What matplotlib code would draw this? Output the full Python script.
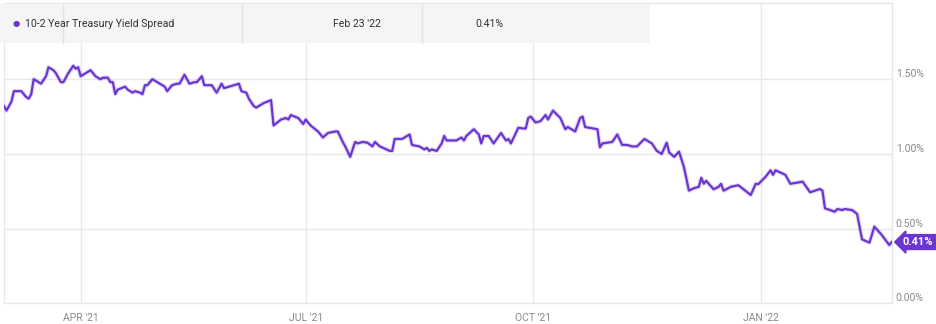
import matplotlib
matplotlib.use("Agg")
import matplotlib.pyplot as plt
import matplotlib.dates as mdates
import pandas as pd
from matplotlib.patches import Rectangle
from matplotlib.lines import Line2D
from matplotlib import font_manager

# 10-2 year treasury spread, values in percent
dates = [
    "2021-03-01", "2021-03-02", "2021-03-04", "2021-03-05", "2021-03-06", "2021-03-08",
    "2021-03-10", "2021-03-11", "2021-03-12", "2021-03-13", "2021-03-14", "2021-03-16",
    "2021-03-18", "2021-03-19", "2021-03-21", "2021-03-22", "2021-03-24", "2021-03-25",
    "2021-03-27", "2021-03-29", "2021-03-30", "2021-03-31",
    "2021-04-01", "2021-04-05", "2021-04-06", "2021-04-07", "2021-04-08", "2021-04-09",
    "2021-04-10", "2021-04-12", "2021-04-13", "2021-04-14", "2021-04-15", "2021-04-16",
    "2021-04-19", "2021-04-20", "2021-04-22", "2021-04-23", "2021-04-25", "2021-04-26",
    "2021-04-27", "2021-04-28", "2021-04-30",
    "2021-05-01", "2021-05-03", "2021-05-05", "2021-05-06", "2021-05-08", "2021-05-10",
    "2021-05-11", "2021-05-13", "2021-05-15", "2021-05-17", "2021-05-18", "2021-05-20",
    "2021-05-21", "2021-05-24", "2021-05-26", "2021-05-28", "2021-05-29", "2021-05-31",
    "2021-06-02", "2021-06-04", "2021-06-05", "2021-06-07", "2021-06-08", "2021-06-10",
    "2021-06-11", "2021-06-14", "2021-06-17", "2021-06-18", "2021-06-21", "2021-06-23",
    "2021-06-24", "2021-06-25", "2021-06-28", "2021-06-30",
    "2021-07-01", "2021-07-03", "2021-07-06", "2021-07-08", "2021-07-10", "2021-07-13",
    "2021-07-14", "2021-07-16", "2021-07-17", "2021-07-19", "2021-07-21", "2021-07-22",
    "2021-07-24", "2021-07-26", "2021-07-28", "2021-07-29", "2021-07-31",
    "2021-08-04", "2021-08-05", "2021-08-06", "2021-08-09", "2021-08-11", "2021-08-12",
    "2021-08-13", "2021-08-16", "2021-08-18", "2021-08-19", "2021-08-20", "2021-08-21",
    "2021-08-23", "2021-08-25", "2021-08-26", "2021-08-27", "2021-08-31",
    "2021-09-02", "2021-09-03", "2021-09-04", "2021-09-07", "2021-09-09", "2021-09-10",
    "2021-09-11", "2021-09-13", "2021-09-15", "2021-09-18", "2021-09-20", "2021-09-21",
    "2021-09-22", "2021-09-25", "2021-09-27", "2021-09-28", "2021-09-29", "2021-09-30",
    "2021-10-02", "2021-10-04", "2021-10-06", "2021-10-07", "2021-10-09", "2021-10-12",
    "2021-10-14", "2021-10-15", "2021-10-18", "2021-10-20", "2021-10-21", "2021-10-22",
    "2021-10-27", "2021-10-28", "2021-10-29",
    "2021-11-02", "2021-11-04", "2021-11-06", "2021-11-08", "2021-11-10", "2021-11-12",
    "2021-11-15", "2021-11-17", "2021-11-18", "2021-11-20", "2021-11-22", "2021-11-24",
    "2021-11-25", "2021-11-27", "2021-11-29",
    "2021-12-01", "2021-12-03", "2021-12-05", "2021-12-07", "2021-12-08", "2021-12-09",
    "2021-12-10", "2021-12-11", "2021-12-13", "2021-12-15", "2021-12-16", "2021-12-17",
    "2021-12-20", "2021-12-23", "2021-12-28", "2021-12-30", "2021-12-31",
    "2022-01-03", "2022-01-05", "2022-01-06", "2022-01-07", "2022-01-11", "2022-01-13",
    "2022-01-18", "2022-01-21", "2022-01-25", "2022-01-26", "2022-01-27", "2022-01-31",
    "2022-02-01", "2022-02-03", "2022-02-04", "2022-02-07", "2022-02-09", "2022-02-11",
    "2022-02-14", "2022-02-16", "2022-02-19", "2022-02-22", "2022-02-23",
]
spread = [
    1.32, 1.29, 1.35, 1.42, 1.42, 1.42,
    1.38, 1.37, 1.40, 1.50, 1.49, 1.47,
    1.52, 1.58, 1.56, 1.54, 1.48, 1.48,
    1.54, 1.59, 1.57, 1.58,
    1.52, 1.56, 1.54, 1.52, 1.51, 1.50,
    1.51, 1.51, 1.48, 1.48, 1.40, 1.43,
    1.45, 1.43, 1.41, 1.42, 1.41, 1.40,
    1.46, 1.46, 1.50,
    1.49, 1.47, 1.45, 1.42, 1.46, 1.47,
    1.47, 1.53, 1.47, 1.48, 1.48, 1.52,
    1.46, 1.46, 1.41, 1.47, 1.44, 1.45,
    1.46, 1.47, 1.42, 1.41, 1.37, 1.32,
    1.31, 1.34, 1.36, 1.19, 1.23, 1.24,
    1.23, 1.26, 1.24, 1.20,
    1.23, 1.19, 1.15, 1.11, 1.14, 1.15,
    1.15, 1.08, 1.05, 0.98, 1.08, 1.07,
    1.08, 1.075, 1.05, 1.08, 1.05,
    1.02, 1.02, 1.10, 1.10, 1.12, 1.13,
    1.06, 1.05, 1.03, 1.04, 1.02, 1.03,
    1.02, 1.07, 1.12, 1.09, 1.09,
    1.11, 1.09, 1.12, 1.165, 1.13, 1.07,
    1.12, 1.12, 1.07, 1.14, 1.09, 1.10,
    1.07, 1.175, 1.17, 1.17, 1.24, 1.25,
    1.21, 1.22, 1.26, 1.23, 1.29, 1.24,
    1.165, 1.18, 1.15, 1.24, 1.25, 1.18,
    1.165, 1.044, 1.07,
    1.08, 1.13, 1.06, 1.06, 1.05, 1.05,
    1.10, 1.08, 1.07, 1.02, 1.00, 1.075,
    1.01, 0.98, 1.015,
    0.91, 0.754, 0.77, 0.78, 0.84, 0.80,
    0.82, 0.80, 0.763, 0.78, 0.80, 0.754,
    0.78, 0.79, 0.725, 0.80, 0.797,
    0.847, 0.89, 0.86, 0.89, 0.86, 0.80,
    0.814, 0.743, 0.765, 0.754, 0.636, 0.613,
    0.631, 0.624, 0.631, 0.624, 0.598, 0.428,
    0.406, 0.513, 0.457, 0.39, 0.41,
]

y_ticks = [0.0, 0.5, 1.0, 1.5]
x_tick_dates = ["2021-04-01", "2021-07-01", "2021-10-01", "2022-01-01"]
x_tick_labels = ["APR '21", "JUL '21", "OCT '21", "JAN '22"]

series_name = "10-2 Year Treasury Yield Spread"
last_date_label = "Feb 23 '22"

purple = "#6a35d0"
grid_col = "#e8e8e8"
label_col = "#8a8a8a"

plt.rcParams["font.family"] = ["Roboto", "DejaVu Sans"]

# the header row uses a narrow face if one is around
installed = {f.name for f in font_manager.fontManager.ttflist}
head_font = "Liberation Sans Narrow" if "Liberation Sans Narrow" in installed else "Roboto"
head_size = 9.5 if head_font == "Liberation Sans Narrow" else 7.6

x = pd.to_datetime(dates)

fig = plt.figure(figsize=(9.36, 3.24), dpi=100)
fig.patch.set_facecolor("white")
ax = fig.add_axes([4 / 936, 1 - 303.3 / 324, 887.7 / 936, 300.3 / 324])

ax.plot(x, spread, color=purple, lw=3.2, alpha=0.18, solid_joinstyle="round", zorder=3)
ax.plot(x, spread, color=purple, lw=1.6, solid_joinstyle="round", zorder=4)

ax.set_xlim(pd.Timestamp("2021-03-01"), pd.Timestamp("2022-02-23"))
ax.set_ylim(0, 2.01)

ax.set_yticks(y_ticks)
ax.set_yticklabels([f"{v:.2f}%" for v in y_ticks])
ax.set_xticks(pd.to_datetime(x_tick_dates))
ax.set_xticklabels(x_tick_labels)

ax.yaxis.tick_right()
ax.tick_params(axis="y", length=0, pad=3, labelsize=7.5, labelcolor=label_col)
ax.tick_params(axis="x", length=0, pad=7, labelsize=7.5, labelcolor=label_col)
for lab in ax.get_yticklabels():
    lab.set_verticalalignment("bottom")

ax.grid(True, color=grid_col, lw=1.0, zorder=0)
for side in ["left", "right", "bottom", "top"]:
    ax.spines[side].set_color(grid_col)
    ax.spines[side].set_linewidth(1.0)

# end-of-series flag
ax.annotate(f"{spread[-1]:.2f}%", xy=(x[-1], spread[-1]), xytext=(8, 0),
            textcoords="offset points", ha="left", va="center",
            color="white", fontsize=8, fontweight="bold",
            bbox=dict(boxstyle="larrow,pad=0.22", fc=purple, ec=purple),
            annotation_clip=False, zorder=6)

# header band with the legend row
fig.patches.append(Rectangle((0, 1 - 43 / 324), 650 / 936, 39 / 324,
                             transform=fig.transFigure, fc="#f5f5f5", ec="none", zorder=5))
for xp in [63, 242, 422]:
    fig.lines.append(Line2D([xp / 936, xp / 936], [1 - 43 / 324, 1 - 4 / 324],
                            transform=fig.transFigure, color="#e4e4e4", lw=1.0, zorder=6))
fig.text(15.7 / 936, 1 - 24 / 324, "\u25cf", color=purple, fontsize=6, ha="center", va="center", zorder=7)
fig.text(25 / 936, 1 - 24 / 324, series_name, color="#333333", fontsize=head_size,
         family=head_font, ha="left", va="center", zorder=7)
fig.text(381 / 936, 1 - 24 / 324, last_date_label, color="#333333", fontsize=head_size,
         family=head_font, ha="right", va="center", zorder=7)
fig.text(503 / 936, 1 - 24 / 324, f"{spread[-1]:.2f}%", color="#333333", fontsize=head_size,
         family=head_font, ha="right", va="center", zorder=7)

fig.savefig("out.png", dpi=100)
